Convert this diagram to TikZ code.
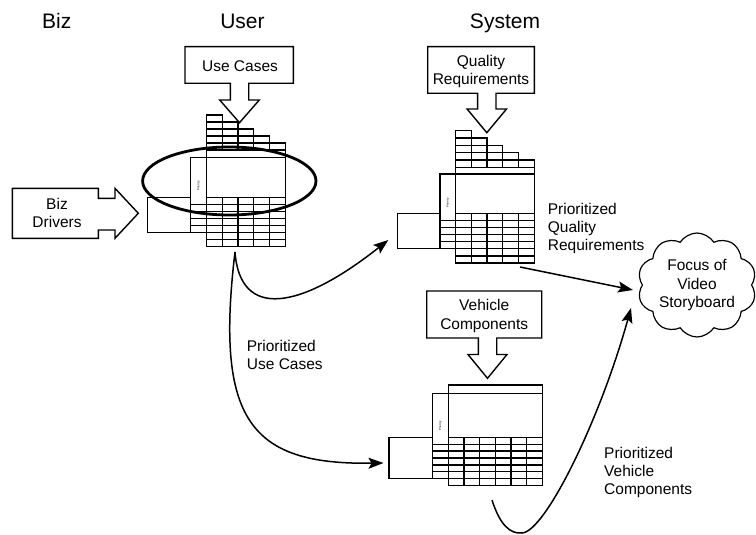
\documentclass[tikz,border=0pt]{standalone}
\usepackage{fontspec}
\setmainfont{Liberation Sans}
\usetikzlibrary{arrows.meta,shapes.symbols,calc}
\begin{document}
\begin{tikzpicture}[x=1pt,y=-1pt,
  mline/.style={line width=1.3pt},
  callout/.style={line width=1.4pt, line join=miter},
  lbl/.style={font=\fontsize{15.5}{18.3}\selectfont, inner sep=0pt, align=left},
  ctext/.style={font=\fontsize{15.5}{18.3}\selectfont, inner sep=0pt, align=center},
  head/.style={font=\fontsize{21}{24}\selectfont, inner sep=0pt},
  flow/.style={line width=1.5pt, -{Stealth[length=15pt,width=11pt,inset=3pt]}},
  prio/.style={font=\fontsize{3}{3.5}\selectfont, rotate=90, inner sep=0pt},
]
\useasboundingbox (0,0) rectangle (756,535);

% headers
\node[head, anchor=base] (hbiz) at (56.7,28.3) {Biz};
\node[head, anchor=base] (huser) at (242.5,28.3) {User};
\node[head, anchor=base] (hsys) at (505,28.3) {System};

% ---------- callouts ----------
\draw[callout] (185,46.7) -- (293.3,46.7) -- (293.3,83.3) -- (248.7,83.3) -- (248.7,100)
  -- (259.3,100) -- (239.5,122.7) -- (219.7,100) -- (230.3,100) -- (230.3,83.3) -- (185,83.3) -- cycle;
\node[ctext] (uc) at (240,66) {Use Cases};

\draw[callout] (427.7,46.7) -- (534.3,46.7) -- (534.3,93.3) -- (496,93.3) -- (496,109)
  -- (506.5,109) -- (486.8,132.7) -- (467.1,109) -- (477.6,109) -- (477.6,93.3) -- (427.7,93.3) -- cycle;
\node[ctext] (qr) at (481,71.6) {Quality\\Requirements};

\draw[callout] (426.7,291) -- (541.7,291) -- (541.7,338) -- (496.7,338) -- (496.7,354.5)
  -- (507,354.5) -- (487.5,378.3) -- (468,354.5) -- (478.3,354.5) -- (478.3,338) -- (426.7,338) -- cycle;
\node[ctext] (vc) at (484.2,316) {Vehicle\\Components};

\draw[callout] (12.3,188.3) -- (98.3,188.3) -- (98.3,198.3) -- (115,198.3) -- (115,188.3)
  -- (138.3,213.3) -- (115,238.3) -- (115,230) -- (98.3,230) -- (98.3,238.3) -- (12.3,238.3) -- cycle;
\node[ctext] (bd) at (57,213.3) {Biz\\Drivers};

% ---------- User matrix ----------
\foreach \i in {0,...,4} {
  \pgfmathsetmacro\xa{206.7+15.7*\i}
  \pgfmathsetmacro\xb{\xa+15.7}
  \pgfmathsetmacro\yt{115+7*\i}
  \draw[mline] (\xa,\yt) rectangle (\xb,150);
  \foreach \j in {\i,...,4} { \draw[mline] (\xa,{115+7*\j}) -- (\xb,{115+7*\j}); }
}
\draw[mline] (206.7,150) rectangle (285.2,197.3);
\draw[mline] (190.7,157.3) -- (285.2,157.3);
\draw[mline] (190.7,157.3) rectangle (206.7,232.3);
\draw[mline] (147.3,197.3) rectangle (190.7,232.3);
\draw[mline] (206.7,197.3) rectangle (285.2,246.3);
\foreach \i in {1,...,4} { \draw[mline] ({206.7+15.7*\i},197.3) -- ({206.7+15.7*\i},246.3); }
\foreach \k in {1,...,6} { \draw[mline] (206.7,{197.3+7*\k}) -- (285.2,{197.3+7*\k}); }
\foreach \k in {1,...,4} { \draw[mline] (190.7,{197.3+7*\k}) -- (206.7,{197.3+7*\k}); }
\node[prio] (up) at (198.7,186) {Priority};

% ---------- Quality matrix ----------
\foreach \i in {0,...,4} {
  \pgfmathsetmacro\xa{455.7+15.7*\i}
  \pgfmathsetmacro\xb{\xa+15.7}
  \pgfmathsetmacro\yt{130.7+7.3*\i}
  \draw[mline] (\xa,\yt) rectangle (\xb,167.2);
  \foreach \j in {\i,...,4} { \draw[mline] (\xa,{130.7+7.3*\j}) -- (\xb,{130.7+7.3*\j}); }
}
\draw[mline] (455.7,167.2) rectangle (534.2,213.3);
\draw[mline] (440,174) -- (534.2,174);
\draw[mline] (440,174) rectangle (455.7,248.8);
\draw[mline] (397.3,213.3) rectangle (440,248.8);
\draw[mline] (455.7,213.3) rectangle (534.2,263);
\foreach \i in {1,...,4} { \draw[mline] ({455.7+15.7*\i},213.3) -- ({455.7+15.7*\i},263); }
\foreach \k in {1,...,6} { \draw[mline] (455.7,{213.3+7.1*\k}) -- (534.2,{213.3+7.1*\k}); }
\foreach \k in {1,...,4} { \draw[mline] (440,{213.3+7.1*\k}) -- (455.7,{213.3+7.1*\k}); }
\node[prio] (qp) at (447.8,203) {Priority};

% ---------- Vehicle matrix ----------
\draw[mline] (448.3,385) rectangle (542.5,393.3);
\draw[mline] (448.3,393.3) rectangle (542.5,437.3);
\draw[mline] (432.3,393.3) rectangle (448.3,478.7);
\draw[mline] (389,437.3) rectangle (432.3,478.7);
\draw[mline] (448.3,437.3) rectangle (542.5,485.6);
\foreach \i in {1,...,5} { \draw[mline] ({448.3+15.7*\i},437.3) -- ({448.3+15.7*\i},485.6); }
\foreach \k in {1,...,6} { \draw[mline] (448.3,{437.3+6.9*\k}) -- (542.5,{437.3+6.9*\k}); }
\foreach \k in {1,...,5} { \draw[mline] (432.3,{437.3+6.9*\k}) -- (448.3,{437.3+6.9*\k}); }
\node[prio] (vp) at (440.3,426) {Priority};

% ellipse highlight
\draw[line width=2.8pt] (229.3,181) ellipse [x radius=86.7, y radius=34];

% cloud
\node[cloud, draw, line width=1.2pt, cloud puffs=10, cloud puff arc=115, aspect=1.2,
  minimum width=119pt, minimum height=104pt, inner sep=0pt, ctext] (cloud) at (697,285)
  {Focus of\\Video\\Storyboard};

% labels
\node[lbl, anchor=north west] (lpuc) at (246.7,339.6) {Prioritized\\Use Cases};
\node[lbl, anchor=north west] (lpqr) at (547.7,202.7) {Prioritized\\Quality\\Requirements};
\node[lbl, anchor=north west] (lpvc) at (604,446.7) {Prioritized\\Vehicle\\Components};

% connectors
\coordinate (ufork) at (235,252);
\coordinate (qin) at (388.3,240);
\coordinate (vin) at (383.5,463);
\coordinate (qout) at (520,267);
\coordinate (cin1) at (633,290);
\coordinate (vout) at (492,500);
\coordinate (vlow) at (522,533);
\coordinate (cin2) at (631,308);
\draw[flow] (ufork) .. controls (240,320) and (300,310) .. (qin);
\draw[flow] (ufork) .. controls (215,420) and (250,465) .. (vin);
\draw[flow] (qout) -- (cin1);
\draw[flow] (vout) .. controls (500,525) and (510,534) .. (vlow) .. controls (545,532) and (600,420) .. (cin2);
\end{tikzpicture}
\end{document}
